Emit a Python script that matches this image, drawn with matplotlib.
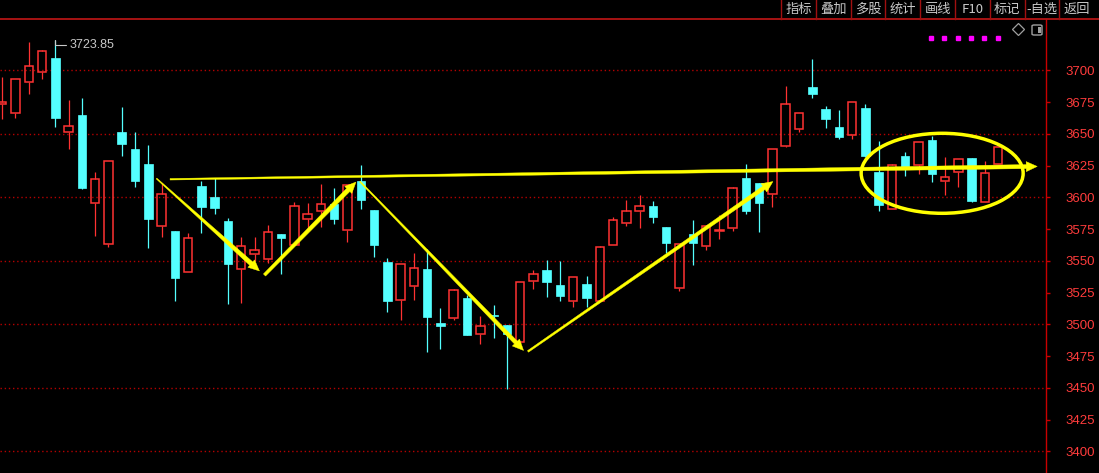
import matplotlib
matplotlib.use("Agg")
import matplotlib.pyplot as plt
import numpy as np
from matplotlib.patches import Rectangle, Ellipse, Polygon, FancyBboxPatch
from matplotlib.lines import Line2D

# ---------------- data ----------------
opens = [3673.5, 3666.6, 3691.0, 3698.9, 3709.7, 3651.2, 3664.8, 3595.3, 3563.0, 3651.4,
         3638.0, 3626.2, 3577.6, 3573.5, 3541.4, 3608.9, 3600.2, 3581.3, 3543.3, 3555.1,
         3551.7, 3571.1, 3562.2, 3583.1, 3589.5, 3594.9, 3574.0, 3612.8, 3590.0, 3549.1,
         3519.4, 3530.4, 3543.5, 3501.0, 3505.2, 3520.7, 3492.1, 3507.3, 3499.4, 3486.3,
         3533.9, 3542.8, 3530.9, 3518.6, 3531.7, 3518.6, 3562.7, 3580.0, 3589.4, 3593.1,
         3576.6, 3528.3, 3571.1, 3562.0, 3573.5, 3576.1, 3615.2, 3611.3, 3602.4, 3640.6,
         3654.0, 3686.9, 3669.5, 3655.4, 3648.8, 3670.3, 3619.9, 3591.0, 3632.5, 3625.2,
         3645.1, 3612.6, 3619.7, 3630.9, 3596.1, 3626.0]
highs = [3694.5, 3693.0, 3722.3, 3716.0, 3723.85, 3676.6, 3678.0, 3619.9, 3628.3, 3671.1,
         3651.4, 3641.2, 3611.0, 3573.5, 3571.9, 3612.8, 3615.2, 3583.5, 3568.5, 3568.5,
         3578.0, 3571.1, 3596.1, 3595.3, 3610.5, 3607.3, 3609.7, 3625.4, 3590.0, 3552.4,
         3547.2, 3556.1, 3559.5, 3512.8, 3527.5, 3522.8, 3506.5, 3515.2, 3499.4, 3533.5,
         3542.8, 3550.6, 3549.8, 3537.0, 3538.0, 3561.4, 3584.7, 3597.9, 3601.8, 3597.1,
         3576.6, 3563.0, 3582.1, 3577.2, 3586.1, 3607.9, 3626.2, 3611.3, 3637.8, 3687.6,
         3666.5, 3708.9, 3671.9, 3668.7, 3674.8, 3673.5, 3644.3, 3626.0, 3635.7, 3643.3,
         3648.3, 3631.5, 3629.9, 3630.9, 3628.3, 3639.4]
lows = [3661.4, 3662.7, 3681.6, 3693.1, 3655.6, 3638.3, 3606.8, 3569.8, 3561.1, 3632.8,
        3608.3, 3560.3, 3569.0, 3518.6, 3541.4, 3572.1, 3587.1, 3515.7, 3516.5, 3549.8,
        3548.0, 3539.8, 3562.2, 3574.3, 3576.9, 3579.2, 3564.6, 3590.6, 3553.2, 3509.7,
        3503.4, 3519.1, 3478.2, 3480.6, 3503.4, 3491.8, 3484.7, 3489.4, 3449.3, 3485.5,
        3528.0, 3521.7, 3518.6, 3513.9, 3513.9, 3518.6, 3562.7, 3577.4, 3576.1, 3580.0,
        3555.9, 3526.5, 3546.7, 3558.5, 3567.4, 3573.7, 3587.1, 3572.9, 3592.6, 3639.4,
        3651.7, 3678.4, 3654.8, 3645.7, 3645.7, 3632.0, 3589.4, 3591.0, 3616.8, 3618.6,
        3612.3, 3602.0, 3607.9, 3596.0, 3596.1, 3626.0]
closes = [3675.3, 3692.9, 3703.1, 3715.0, 3662.7, 3655.9, 3607.6, 3614.2, 3628.3, 3642.2,
          3613.1, 3583.1, 3602.4, 3536.7, 3567.7, 3592.6, 3591.8, 3547.7, 3561.4, 3558.5,
          3572.7, 3568.2, 3593.1, 3586.9, 3594.7, 3583.1, 3609.7, 3598.1, 3562.4, 3518.3,
          3547.2, 3544.3, 3505.7, 3498.9, 3526.8, 3491.8, 3498.7, 3506.8, 3492.6, 3533.1,
          3539.4, 3533.5, 3522.5, 3537.0, 3521.0, 3560.6, 3582.1, 3589.0, 3592.9, 3584.5,
          3564.3, 3563.0, 3564.3, 3577.2, 3573.9, 3607.1, 3589.2, 3595.7, 3637.8, 3673.2,
          3666.1, 3681.6, 3661.9, 3647.7, 3674.8, 3632.8, 3594.2, 3625.2, 3623.6, 3643.3,
          3618.6, 3615.7, 3629.9, 3597.1, 3618.9, 3639.4]

price_ticks = list(range(3400, 3701, 25))
grid_levels = list(range(3400, 3701, 50))
toolbar_labels = ["指标", "叠加", "多股", "统计", "画线", "F10", "标记", "-自选", "返回"]

# hand-drawn trend arrows: (x0, y0, x1, y1, start width px, end width px)
trend_arrows = [
    (12.64, 3614.2, 77.94, 3624.3, 1.5, 4.0),
    (11.62, 3614.8, 19.37, 3542.0, 1.0, 4.5),
    (19.75, 3538.8, 26.64, 3612.0, 3.0, 4.5),
    (26.94, 3612.4, 39.26, 3479.4, 1.2, 4.0),
    (39.59, 3478.6, 58.04, 3612.4, 1.8, 4.0),
]
# consolidation zone ring: centre (index, price), width (bars), height (price)
zone_center = (70.78, 3618.9)
zone_size = (12.2, 63.0)

# ---------------- style ----------------
W, H = 1099, 473
BG = "#000000"
UP = "#ff3232"
DOWN = "#54ffff"
GRID = "#b40000"
AXIS = "#c80000"
LABEL = "#ff3c3c"
YELLOW = "#ffff00"
TEXT = "#c8c8c8"

plt.rcParams["font.family"] = ["Noto Sans CJK SC", "DejaVu Sans"]

fig = plt.figure(figsize=(W / 100, H / 100), dpi=100, facecolor=BG)
top_bar = 19
ax = fig.add_axes([0, 0, 1046 / W, (H - top_bar) / H], facecolor=BG)
ax.set_xlim(-0.166, 78.6)
ax.set_ylim(3382.9, 3740.4)

for s in ("left", "top", "bottom"):
    ax.spines[s].set_visible(False)
ax.spines["right"].set_color(AXIS)
ax.spines["right"].set_linewidth(1.0)
ax.set_xticks([])
ax.yaxis.tick_right()
ax.set_yticks(price_ticks)
ax.set_yticklabels([str(p) for p in price_ticks], fontfamily="Liberation Sans")
ax.tick_params(axis="y", colors=AXIS, labelcolor=LABEL, length=3.2, width=1.0,
               pad=10.5, labelsize=9.5)

# dotted price grid
ax.hlines(grid_levels, -0.166, 78.6, colors=GRID, linestyles=(0, (1, 2)),
          linewidth=1.0, zorder=0)

# ---------------- candles ----------------
bw = 0.64
for i, (o, h, l, c) in enumerate(zip(opens, highs, lows, closes)):
    if c >= o:
        top, bot = c, o
        ax.add_patch(Rectangle((i - bw / 2, bot), bw, max(top - bot, 0.5),
                               fill=False, edgecolor=UP, linewidth=1.1, zorder=3))
        if h > top:
            ax.vlines(i, top, h, color=UP, linewidth=0.9, zorder=3)
        if l < bot:
            ax.vlines(i, l, bot, color=UP, linewidth=0.9, zorder=3)
    else:
        ax.vlines(i, l, h, color=DOWN, linewidth=0.9, zorder=3)
        ax.add_patch(Rectangle((i - bw / 2, c), bw, max(o - c, 0.5),
                               facecolor=DOWN, edgecolor=DOWN, linewidth=0.5, zorder=3))

# highest-price marker
imax = int(np.argmax(highs))
ax.annotate(f"{highs[imax]:.2f}", xy=(imax, highs[imax]), xytext=(10, -3.5),
            textcoords="offset points", color=TEXT, fontsize=9,
            fontfamily="Liberation Sans", va="center", ha="left",
            arrowprops=dict(arrowstyle="-", color=TEXT, lw=0.8,
                            shrinkA=0, shrinkB=0,
                            connectionstyle="angle,angleA=0,angleB=90,rad=0"),
            zorder=5)


# ---------------- annotations ----------------
def tapered_arrow(x0, y0, x1, y1, w0, w1, head_len=11.0, head_w=10.0):
    p0 = ax.transData.transform((x0, y0))
    p1 = ax.transData.transform((x1, y1))
    d = p1 - p0
    u = d / np.hypot(*d)
    n = np.array([-u[1], u[0]])
    base = p1 - u * head_len
    pts = [p0 + n * w0 / 2, base + n * w1 / 2, base + n * head_w / 2, p1,
           base - n * head_w / 2, base - n * w1 / 2, p0 - n * w0 / 2]
    dpts = ax.transData.inverted().transform(np.array(pts))
    ax.add_patch(Polygon(dpts, closed=True, facecolor=YELLOW, edgecolor=YELLOW,
                         linewidth=0.3, zorder=6))


for x0, y0, x1, y1, w0, w1 in trend_arrows:
    tapered_arrow(x0, y0, x1, y1, w0, w1)

ax.add_patch(Ellipse(zone_center, zone_size[0], zone_size[1], fill=False,
                     edgecolor=YELLOW, linewidth=2.5, zorder=6))

# ---------------- top toolbar ----------------
def fx(px):
    return px / W


def fy(py):
    return 1 - py / H


fig.add_artist(Line2D([0, 1], [fy(top_bar), fy(top_bar)], color="#b41414",
                      linewidth=1.3, transform=fig.transFigure))
btn_x0, btn_w = 781.0, 34.8
for k, lab in enumerate(toolbar_labels):
    left = btn_x0 + k * btn_w
    fig.add_artist(Line2D([fx(left), fx(left)], [fy(0), fy(top_bar)],
                          color="#a01010", linewidth=1.0, transform=fig.transFigure))
    fig.text(fx(left + btn_w / 2), fy(9.5), lab, color=TEXT, fontsize=9.5,
             ha="center", va="center")

# status dots and icons in the upper right corner
dot_x = [931 + 13.35 * k for k in range(6)]
fig.add_artist(Line2D([fx(x) for x in dot_x], [fy(38.3)] * 6, linestyle="none",
                      marker="s", markersize=2.3, color="#ff00ff",
                      transform=fig.transFigure))
fig.add_artist(Line2D([fx(1018)], [fy(29.5)], linestyle="none", marker="D",
                      markersize=6.5, markerfacecolor="none",
                      markeredgecolor="#a0a0a0", markeredgewidth=0.9,
                      transform=fig.transFigure))
fig.add_artist(FancyBboxPatch((fx(1032), fy(35)), fx(10), 10 / H,
                              boxstyle="round,pad=0,rounding_size=0.002",
                              facecolor="none", edgecolor="#a0a0a0", linewidth=1.0,
                              transform=fig.transFigure))
fig.add_artist(Rectangle((fx(1037.5), fy(33)), fx(3.5), 6 / H,
                         facecolor="#a0a0a0", edgecolor="none",
                         transform=fig.transFigure))

fig.savefig("out.png", dpi=100, facecolor=BG)
